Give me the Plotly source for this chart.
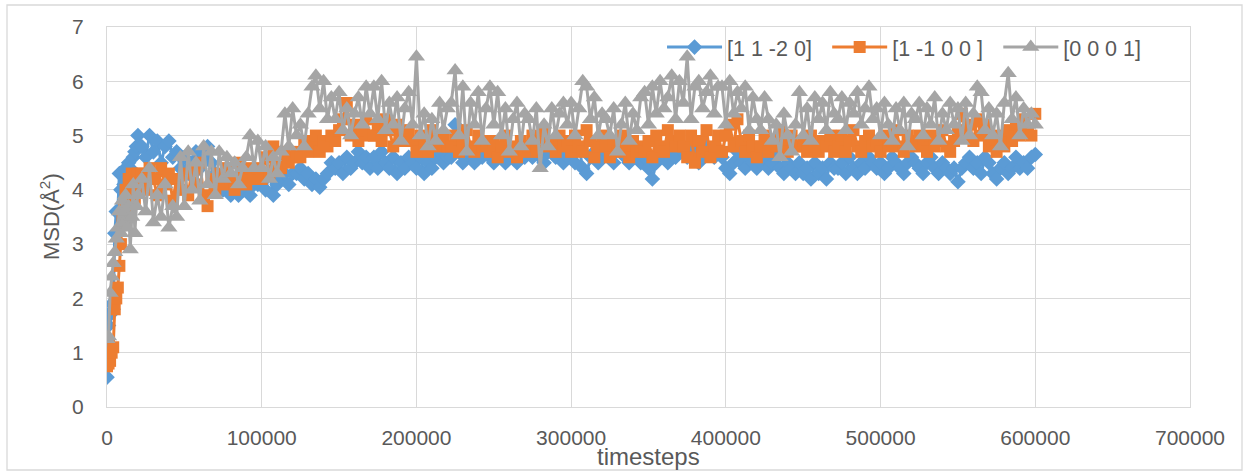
import plotly.graph_objects as go

# x: sampling of the run (timesteps)
timesteps = list(range(0, 21000, 1000)) + list(range(22500, 600001, 2500))

series_names = ["[1 1 -2 0]", "[1 -1 0 0 ]", "[0 0 0 1]"]

msd_11m20 = [
    0.55, 1.5, 1.7, 1.9, 1.8, 3.2, 3.6, 3.6, 4.3, 4.0, 4.3, 4.1, 4.4, 4.2, 4.5, 4.4, 4.3, 4.6, 4.7, 4.8, 5.0,
    4.8, 4.6, 5.0, 4.7, 4.9, 4.5, 4.8, 4.9, 4.6, 4.7,
    4.4, 4.6, 4.3, 4.5, 4.7, 4.4, 4.6, 4.8, 4.5, 4.3,
    4.2, 4.0, 4.3, 3.9, 4.1, 3.9, 4.0, 4.2, 3.9, 4.1,
    4.1, 4.2, 4.0, 4.3, 3.9, 4.1, 4.2, 4.3, 4.1, 4.3,
    4.3, 4.4, 4.2, 4.3, 4.1, 4.2, 4.05, 4.2, 4.3, 4.5,
    4.4, 4.5, 4.3, 4.6, 4.4, 4.5, 4.7, 4.5, 4.6, 4.4,
    4.6, 4.4, 4.7, 4.5, 4.4, 4.6, 4.3, 4.5, 4.4, 4.6,
    4.5, 4.4, 4.6, 4.3, 4.5, 4.4, 4.6, 4.7, 4.5, 4.6,
    4.6, 5.2, 4.7, 4.5, 4.8, 4.6, 4.5, 4.7, 4.6, 4.8,
    4.6, 4.5, 4.7, 4.6, 4.5, 4.8, 4.6, 4.5, 4.7, 4.6,
    4.7, 4.6, 4.8, 4.6, 4.5, 4.7, 4.8, 4.6, 4.7, 4.5,
    4.6, 4.7, 4.5, 4.8, 4.4, 4.3, 4.6, 4.7, 4.5, 4.6,
    4.7, 4.6, 4.5, 4.8, 4.7, 4.6, 4.5, 4.7, 4.6, 4.5,
    4.6, 4.4, 4.2, 4.5, 4.7, 4.6, 4.5, 4.7, 4.6, 4.8,
    4.7, 4.6, 4.8, 4.7, 4.5, 4.6, 4.8, 4.7, 4.6, 4.7,
    4.6, 4.4, 4.3, 4.5, 4.7, 4.5, 4.4, 4.6, 4.5, 4.4,
    4.5, 4.6, 4.4, 4.5, 4.6, 4.4, 4.3, 4.5, 4.4, 4.3,
    4.5, 4.3, 4.4, 4.2, 4.5, 4.3, 4.4, 4.2, 4.5, 4.4,
    4.4, 4.5, 4.3, 4.6, 4.4, 4.3, 4.5, 4.4, 4.6, 4.5,
    4.4, 4.5, 4.3, 4.4, 4.6, 4.5, 4.4, 4.3, 4.5, 4.6,
    4.5, 4.4, 4.3, 4.5, 4.6, 4.4, 4.3, 4.5, 4.4, 4.3,
    4.4, 4.15, 4.4, 4.5, 4.6, 4.4, 4.5, 4.3, 4.6, 4.5,
    4.3, 4.2, 4.4, 4.5, 4.3, 4.4, 4.6, 4.4, 4.5, 4.4, 4.6, 4.65,
]

msd_1m100 = [
    0.75, 0.8, 0.85, 1.0, 1.1, 1.8, 2.0, 2.2, 2.6, 3.0, 3.5, 3.7, 4.0, 3.6, 4.2, 3.9, 4.3, 4.0, 3.8, 4.2, 4.3,
    4.3, 4.0, 4.4, 4.2, 3.9, 4.4, 4.1, 4.3, 3.8, 4.2,
    4.0, 4.3, 3.9, 4.4, 4.1, 4.5, 3.9, 3.7, 4.2, 4.0,
    4.3, 4.1, 4.4, 4.2, 4.0, 4.5, 4.3, 4.1, 4.4, 4.2,
    4.4, 4.2, 4.6, 4.3, 4.8, 4.5, 4.4, 4.7, 4.5, 4.6,
    4.7, 4.6, 4.9, 4.7, 4.8, 5.0, 4.7, 4.9, 4.8, 5.0,
    4.9, 5.1, 5.3, 5.6, 5.0, 5.2, 4.9, 5.1, 5.3, 5.0,
    5.0, 5.2, 4.9, 5.3, 5.1, 4.8, 5.2, 5.0, 4.9, 5.1,
    4.9, 4.7, 5.0, 4.8, 4.7, 5.1, 4.9, 4.8, 5.0, 4.8,
    4.8, 5.0, 4.7, 4.9, 5.1, 4.8, 4.7, 5.0, 4.8, 4.9,
    4.7, 4.9, 4.6, 4.8, 5.0, 4.7, 4.8, 4.6, 4.9, 4.7,
    4.8, 5.0, 4.7, 4.9, 5.1, 4.8, 4.9, 4.7, 5.0, 4.8,
    4.9, 4.7, 5.0, 4.8, 4.7, 5.1, 4.9, 4.6, 4.8, 5.0,
    4.8, 4.6, 4.9, 4.7, 5.0, 4.8, 4.6, 4.9, 4.7, 4.8,
    4.7, 4.9, 4.6, 5.0, 4.8, 4.7, 5.1, 4.9, 4.8, 5.0,
    4.8, 4.6, 5.0, 4.5, 4.9, 4.7, 5.1, 4.6, 4.8, 5.0,
    4.7, 5.0, 5.2, 4.8, 5.3, 4.9, 4.7, 5.0, 4.8, 4.6,
    4.8, 5.0, 4.7, 4.9, 4.8, 5.1, 4.9, 4.7, 5.0, 4.8,
    4.8, 4.9, 4.7, 5.0, 4.8, 4.7, 4.9, 4.8, 5.0, 4.7,
    4.8, 5.0, 4.7, 4.9, 5.1, 4.8, 4.7, 4.9, 5.0, 4.8,
    4.9, 4.7, 5.0, 4.8, 4.9, 5.1, 4.8, 4.7, 5.0, 4.9,
    4.8, 5.0, 4.9, 4.7, 5.0, 4.8, 4.9, 5.1, 4.8, 4.7,
    4.9, 5.1, 5.4, 5.0, 5.2, 4.9, 5.3, 5.0, 5.2, 4.8,
    4.9, 4.7, 5.0, 4.8, 5.1, 4.9, 5.2, 5.0, 5.3, 5.1, 5.0, 5.4,
]

msd_0001 = [
    1.25, 1.3, 2.1, 2.4, 2.65, 2.85, 3.1, 3.3, 3.6, 3.2, 3.8, 3.4, 3.9, 3.3, 3.7, 2.9, 3.5, 4.1, 3.2, 3.7, 3.9,
    4.2, 3.6, 4.4, 3.4, 3.9, 3.5, 4.1, 3.3, 3.7, 3.5,
    4.6, 3.7, 4.7, 4.0, 4.5, 3.8, 4.8, 4.1, 4.7, 3.9,
    4.7, 4.2, 4.6, 4.3, 4.5, 4.1, 4.4, 4.6, 5.0, 4.4,
    4.9, 4.4, 4.8, 4.2, 4.6, 4.3, 4.7, 5.4, 4.8, 5.5,
    5.0, 5.2, 4.8, 5.4, 5.9, 6.1, 5.5, 6.0, 5.3, 5.7,
    5.3, 5.8, 5.1, 5.5, 5.0, 5.4, 5.7, 5.2, 5.9, 5.4,
    5.9, 5.3, 6.0, 5.1, 5.6, 5.2, 5.7, 4.9, 5.5, 5.8,
    5.2, 6.45, 5.0, 5.4, 4.8, 5.3, 4.9, 5.6, 5.1, 5.5,
    5.6, 6.2, 5.0, 5.9, 4.7, 5.6, 5.2, 5.8, 4.9, 5.5,
    5.9, 5.2, 5.8, 5.0, 5.5, 4.7, 5.3, 5.6, 4.8, 5.4,
    5.3, 4.9, 5.5, 4.4, 5.2, 4.8, 5.5, 5.0, 5.4, 5.6,
    5.2, 5.6, 5.0, 5.5, 6.0, 5.9, 5.3, 5.7, 5.0, 5.4,
    5.3, 5.0, 5.5, 4.7, 5.2, 5.6, 4.9, 5.4, 5.1, 5.7,
    5.8, 5.2, 5.9, 5.4, 6.0, 5.5, 5.7, 6.1, 5.3, 6.0,
    5.6, 6.45, 5.3, 5.9, 6.0, 5.5, 5.8, 6.1, 5.4, 5.9,
    5.9, 5.2, 6.0, 5.4, 5.8, 5.5, 5.9, 5.1, 5.7, 5.3,
    5.1, 5.7, 5.3, 4.9, 5.2, 4.6, 5.4, 5.0, 4.7, 5.2,
    5.8, 5.0, 5.5, 4.9, 5.7, 5.3, 5.6, 5.1, 5.8, 5.4,
    5.3, 5.7, 5.1, 5.6, 5.4, 5.8, 5.2, 5.5, 5.9, 5.3,
    5.5, 5.0, 5.6, 5.2, 4.9, 5.5, 5.1, 5.6, 4.8, 5.4,
    5.3, 5.6, 5.0, 5.5, 5.2, 5.7, 4.9, 5.4, 5.1, 5.6,
    5.2, 5.5, 4.9, 5.6, 5.0, 5.4, 5.9, 5.8, 5.1, 5.5,
    5.0, 5.4, 4.8, 5.6, 6.15, 5.3, 5.7, 5.0, 5.5, 5.2, 5.4, 5.2,
]

x_ticks = [0, 100000, 200000, 300000, 400000, 500000, 600000, 700000]
y_ticks = [0, 1, 2, 3, 4, 5, 6, 7]

colors = ["#5B9BD5", "#ED7D31", "#A5A5A5"]
symbols = ["diamond", "square", "triangle-up"]
sizes = [12, 12, 15]
FONT = "Liberation Sans"
TXT = "#595959"
GRID = "#D9D9D9"
PAD = "\u00a0\u2009"

fig = go.Figure()
for i, (name, ys, c, s, sz) in enumerate(zip(series_names, [msd_11m20, msd_1m100, msd_0001], colors, symbols, sizes)):
    n = min(len(ys), len(timesteps))
    fig.add_trace(go.Scatter(
        x=timesteps[:n], y=ys[:n], name=name + (PAD if i < 2 else ""), mode="lines+markers",
        line=dict(color=c, width=3),
        marker=dict(symbol=s, size=sz, color=c, line=dict(width=0)),
    ))

fig.update_layout(
    width=1244, height=472,
    margin=dict(l=107, r=54, t=27, b=65),
    paper_bgcolor="white", plot_bgcolor="white",
    font=dict(family=FONT, color=TXT, size=21),
    showlegend=True,
    legend=dict(
        orientation="h", x=0.5125, y=0.947, xanchor="left", yanchor="middle",
        bgcolor="rgba(0,0,0,0)", font=dict(size=21.5, color=TXT, family=FONT),
        itemwidth=55, tracegroupgap=0,
    ),
    xaxis=dict(
        range=[0, 700000], tickvals=x_ticks, ticktext=[str(v) for v in x_ticks],
        showgrid=True, gridcolor=GRID, gridwidth=1.3, zeroline=False,
        showline=True, linecolor=GRID, linewidth=1.3, mirror=True,
        ticks="", ticklabelstandoff=12, tickfont=dict(size=21, color=TXT),
        automargin=False,
    ),
    yaxis=dict(
        range=[0, 7], tickvals=y_ticks, ticktext=[str(v) for v in y_ticks],
        showgrid=True, gridcolor=GRID, gridwidth=1.3, zeroline=False,
        showline=True, linecolor=GRID, linewidth=1.3, mirror=True,
        ticks="", ticklabelstandoff=18, tickfont=dict(size=21, color=TXT),
        automargin=False,
    ),
    annotations=[
        dict(text="timesteps", xref="paper", yref="paper", x=0.5, y=-0.129,
             xanchor="center", yanchor="middle", showarrow=False,
             font=dict(size=24, color=TXT, family=FONT)),
        dict(text="MSD(Å<sup>2</sup>)", xref="paper", yref="paper", x=-0.0526, y=0.5,
             xanchor="center", yanchor="middle", textangle=-90, showarrow=False,
             font=dict(size=22, color=TXT, family=FONT)),
    ],
    shapes=[
        dict(type="rect", xref="paper", yref="paper",
             x0=(7 - 107) / 1083, x1=(1242 - 107) / 1083,
             y0=(407 - 470) / 380, y1=(407 - 5) / 380,
             line=dict(color=GRID, width=1.3), fillcolor="rgba(0,0,0,0)", layer="below"),
    ],
)

fig.write_html("out.html", config={"displayModeBar": False},
               post_script="document.body.style.margin='0px';")
